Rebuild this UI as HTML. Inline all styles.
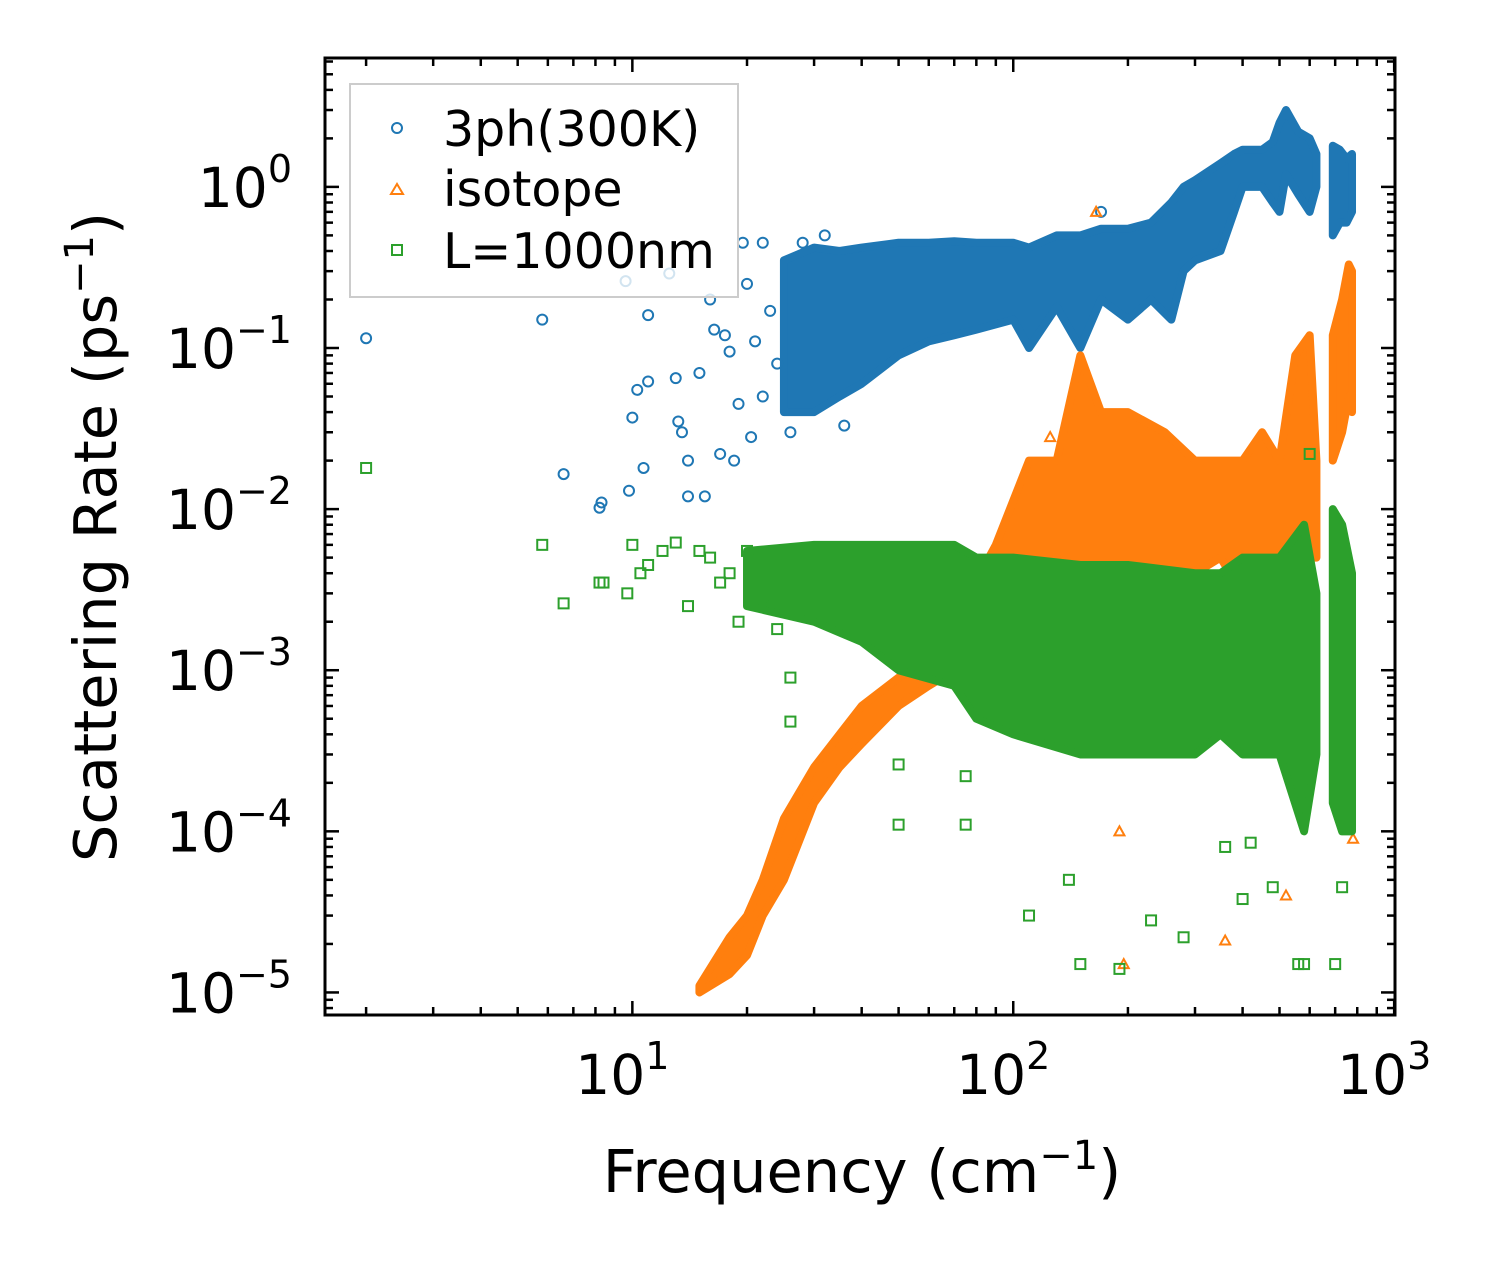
<!DOCTYPE html>
<html><head><meta charset="utf-8"><style>
body{margin:0;background:#fff}
svg text{font-family:"DejaVu Sans","Liberation Sans",sans-serif;fill:#000}
</style></head><body>
<svg id="chart" width="1499" height="1265" viewBox="0 0 1499 1265" xmlns="http://www.w3.org/2000/svg">
<g id="plot"></g>
<g id="axes"></g>
<text x="862" y="1192" font-size="59" text-anchor="middle">Frequency (cm<tspan dy="-23" font-size="40">−1</tspan><tspan dy="23">)</tspan></text>
<text transform="translate(116,537) rotate(-90)" font-size="59" text-anchor="middle">Scattering Rate (ps<tspan dy="-23" font-size="40">−1</tspan><tspan dy="23">)</tspan></text>
<g>
<rect x="350" y="84" width="388" height="213" fill="#fff" fill-opacity="0.8" stroke="#ccc" stroke-width="2"/>
<circle cx="397" cy="128" r="5" fill="none" stroke="#1f77b4" stroke-width="2"/>
<text x="443" y="146" font-size="49">3ph(300K)</text>
<path d="M391,194 L397,184 L403,194 Z" fill="none" stroke="#ff7f0e" stroke-width="2"/>
<text x="443" y="206" font-size="49">isotope</text>
<rect x="392" y="245" width="10" height="10" fill="none" stroke="#2ca02c" stroke-width="2"/>
<text x="443" y="268" font-size="49">L=1000nm</text>
</g>
</svg>
<script>
const xTicks=[10,100,1000];
const yTicks=[1,0.1,0.01,0.001,0.0001,0.00001];
const yTickExp=["0","−1","−2","−3","−4","−5"];
const xTickExp=["1","2","3"];
const blueBandA=[[25,0.04,0.35],[30,0.04,0.42],[35,0.05,0.4],[40,0.06,0.42],[50,0.09,0.45],[60,0.11,0.45],[70,0.12,0.46],[80,0.13,0.45],[100,0.15,0.45],[110,0.1,0.42],[130,0.18,0.5],[150,0.1,0.5],[170,0.2,0.55],[200,0.15,0.55],[230,0.2,0.6],[260,0.15,0.8],[280,0.3,1.0],[300,0.35,1.1],[350,0.4,1.4],[380,0.7,1.6],[400,1.0,1.7],[450,1.0,1.7],[480,0.8,1.9],[500,0.7,2.5],[520,1.2,3.0],[560,0.9,2.2],[600,0.7,2.0],[625,1.0,1.6]];
const blueBandB=[[690,0.5,1.8],[720,0.6,1.7],[750,0.6,1.5],[775,0.7,1.6]];
const blueX=[2.0,5.8,6.6,8.2,8.3,9.6,9.8,10,10.3,10.7,11,11,12.5,13,13.2,13.5,14,14,15,15.5,16,16.4,17,17.5,18,18.5,19,19.5,20,20.5,21,22,22,23,24,26,28,32,36,170];
const blueY=[0.115,0.15,0.0165,0.0102,0.011,0.26,0.013,0.037,0.055,0.018,0.16,0.062,0.29,0.065,0.035,0.03,0.012,0.02,0.07,0.012,0.2,0.13,0.022,0.12,0.095,0.02,0.045,0.45,0.25,0.028,0.11,0.05,0.45,0.17,0.08,0.03,0.45,0.5,0.033,0.7];
const orangeBandA=[[15,1.0e-5,1.1e-5],[18,1.3e-5,2.2e-5],[20,1.7e-5,3e-5],[22,3e-5,5e-5],[25,5e-5,1.2e-4],[30,1.5e-4,2.5e-4],[35,2.5e-4,4e-4],[40,3.5e-4,6e-4],[50,6e-4,9e-4],[60,8e-4,1.2e-3],[70,1e-3,2e-3],[90,2e-3,6e-3],[110,4e-3,2e-2],[130,5e-3,2e-2],[150,4e-3,0.09],[170,3e-3,0.04],[200,4e-3,0.04],[250,3e-3,0.03],[300,4e-3,0.02],[350,5e-3,0.02],[400,3e-3,0.02],[450,5e-3,0.03],[500,3e-3,0.02],[550,4e-3,0.09],[600,5e-3,0.12],[625,5e-3,0.02]];
const orangeBandB=[[690,0.02,0.12],[730,0.03,0.2],[760,0.05,0.33],[775,0.04,0.3]];
const orangeX=[125,165,195,190,360,520,780];
const orangeY=[0.028,0.7,1.5e-5,1e-4,2.1e-5,4e-5,9e-5];
const greenBandA=[[20,2.5e-3,5.5e-3],[30,2e-3,6e-3],[40,1.5e-3,6e-3],[50,1e-3,6e-3],[70,8e-4,6e-3],[80,5e-4,5e-3],[100,4e-4,5e-3],[150,3e-4,4.5e-3],[200,3e-4,4.5e-3],[300,3e-4,4e-3],[350,4e-4,4e-3],[400,3e-4,5e-3],[500,3e-4,5e-3],[580,1e-4,8e-3],[625,3e-4,3e-3]];
const greenBandB=[[690,1.5e-4,1e-2],[730,1e-4,8e-3],[775,1e-4,4e-3]];
const greenX=[2.0,5.8,6.6,8.2,8.4,9.7,10,10.5,11,12,13,14,15,16,17,18,19,20,22,24,26,26,50,50,75,75,110,140,150,190,230,280,360,400,420,480,560,580,600,700,730];
const greenY=[0.018,0.006,2.6e-3,3.5e-3,3.5e-3,3e-3,6e-3,4e-3,4.5e-3,5.5e-3,6.2e-3,2.5e-3,5.5e-3,5e-3,3.5e-3,4e-3,2e-3,5.5e-3,2.5e-3,1.8e-3,9e-4,4.8e-4,2.6e-4,1.1e-4,1.1e-4,2.2e-4,3e-5,5e-5,1.5e-5,1.4e-5,2.8e-5,2.2e-5,8e-5,3.8e-5,8.5e-5,4.5e-5,1.5e-5,1.5e-5,0.022,1.5e-5,4.5e-5];

const X0=325,X1=1395,Y0=58,Y1=1015;
const lxMin=Math.log10(1.56),lxMax=Math.log10(1005);
const lyMin=-5.14,lyMax=0.8;
const sx=v=>X0+(Math.log10(v)-lxMin)/(lxMax-lxMin)*(X1-X0);
const sy=v=>Y1-(Math.log10(v)-lyMin)/(lyMax-lyMin)*(Y1-Y0);
const NS="http://www.w3.org/2000/svg";
const plot=document.getElementById('plot'),axes=document.getElementById('axes');
function mk(tag,attrs,parent){const e=document.createElementNS(NS,tag);for(const k in attrs)e.setAttribute(k,attrs[k]);parent.appendChild(e);return e;}
function band(data,color,name){
  const top=data.map(d=>sx(d[0])+','+sy(d[2]));
  const bot=data.slice().reverse().map(d=>sx(d[0])+','+sy(d[1]));
  const p=mk('polygon',{points:top.concat(bot).join(' '),fill:color,stroke:color,'stroke-width':8,'stroke-linejoin':'round'},plot);
  
  
}
function pts(xs,ys,color,shape,name){
  xs.forEach((x,i)=>{const cx=sx(x),cy=sy(ys[i]);let e;
    if(shape==='c')e=mk('circle',{cx:cx,cy:cy,r:5,fill:'none',stroke:color,'stroke-width':2},plot);
    else if(shape==='t')e=mk('path',{d:`M${cx-5},${cy+4} L${cx},${cy-5} L${cx+5},${cy+4} Z`,fill:'none',stroke:color,'stroke-width':2},plot);
    else e=mk('rect',{x:cx-5,y:cy-5,width:10,height:10,fill:'none',stroke:color,'stroke-width':2},plot);
    
    
  });
}
band(blueBandA,'#1f77b4','blue-band-a');band(blueBandB,'#1f77b4','blue-band-b');
pts(blueX,blueY,'#1f77b4','c','point-3ph');
band(orangeBandA,'#ff7f0e','orange-band-a');band(orangeBandB,'#ff7f0e','orange-band-b');
pts(orangeX,orangeY,'#ff7f0e','t','point-isotope');
band(greenBandA,'#2ca02c','green-band-a');band(greenBandB,'#2ca02c','green-band-b');
pts(greenX,greenY,'#2ca02c','s','point-boundary');
const fr=mk('rect',{x:X0,y:Y0,width:X1-X0,height:Y1-Y0,fill:'none',stroke:'#000','stroke-width':3},axes);


function tick(x1,y1,x2,y2){mk('line',{x1:x1,y1:y1,x2:x2,y2:y2,stroke:'#000','stroke-width':2.5},axes);}
for(let d=0;d<=3;d++)for(let m=1;m<10;m++){const v=m*Math.pow(10,d);if(v<1.56||v>1005)continue;const x=sx(v),L=m===1?14:8;tick(x,Y1,x,Y1-L);tick(x,Y0,x,Y0+L);}
for(let d=-6;d<=0;d++)for(let m=1;m<10;m++){const v=m*Math.pow(10,d);const l=Math.log10(v);if(l<lyMin||l>lyMax)continue;const y=sy(v),L=m===1?14:8;tick(X0,y,X0+L,y);tick(X1,y,X1-L,y);}
xTicks.forEach((v,i)=>{const t=mk('text',{x:sx(v)-10,y:1094,'font-size':55,'text-anchor':'middle'},axes);t.innerHTML='10<tspan dy="-25" font-size="38">'+xTickExp[i]+'</tspan>';

});
yTicks.forEach((v,i)=>{const t=mk('text',{x:292,y:sy(v)+20,'font-size':55,'text-anchor':'end'},axes);t.innerHTML='10<tspan dy="-25" font-size="38">'+yTickExp[i]+'</tspan>';

});
</script>
</body></html>
